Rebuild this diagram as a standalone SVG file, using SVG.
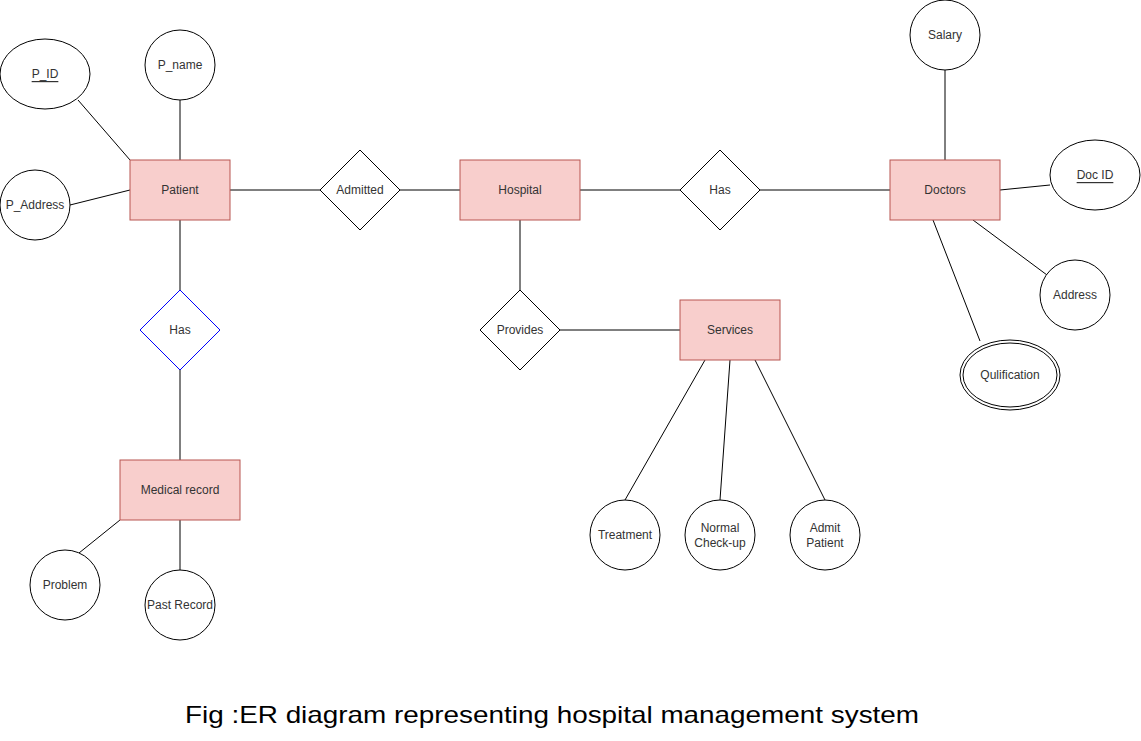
<svg xmlns="http://www.w3.org/2000/svg" width="1141" height="741" viewBox="0 0 1141 741">
<style>
.ent{fill:#f8cecc;stroke:#b85450;stroke-width:1}
.att{fill:#ffffff;stroke:#000000;stroke-width:1}
.rel{fill:#ffffff;stroke:#000000;stroke-width:1}
.relb{fill:#ffffff;stroke:#0000ff;stroke-width:1}
.lbl{font-family:"Liberation Sans",Arial,sans-serif;font-size:12px;fill:#333333;text-anchor:middle;dominant-baseline:central}
.u{text-decoration:underline}
.edge line{stroke:#000000;stroke-width:1}
.cap{font-family:"Liberation Sans",Arial,sans-serif;font-size:24px;fill:#000000}
</style>
<rect width="1141" height="741" fill="#ffffff"/>
<g id="connectors" class="edge">
<line x1="180" y1="100" x2="180" y2="160"/>
<line x1="78" y1="100" x2="130" y2="160"/>
<line x1="70" y1="205" x2="130" y2="190"/>
<line x1="230" y1="190" x2="320" y2="190"/>
<line x1="400" y1="190" x2="460" y2="190"/>
<line x1="580" y1="190" x2="680" y2="190"/>
<line x1="760" y1="190" x2="890" y2="190"/>
<line x1="945" y1="70" x2="945" y2="160"/>
<line x1="1000" y1="190" x2="1050" y2="185"/>
<line x1="973" y1="220" x2="1047" y2="275"/>
<line x1="933" y1="220" x2="980" y2="341"/>
<line x1="520" y1="220" x2="520" y2="290"/>
<line x1="560" y1="330" x2="680" y2="330"/>
<line x1="705" y1="360" x2="625" y2="500"/>
<line x1="730" y1="360" x2="720" y2="500"/>
<line x1="755" y1="360" x2="825" y2="500"/>
<line x1="180" y1="220" x2="180" y2="290"/>
<line x1="180" y1="370" x2="180" y2="460"/>
<line x1="120" y1="520" x2="79" y2="553"/>
<line x1="180" y1="520" x2="180" y2="570"/>
</g>
<g id="patient"><rect class="ent" x="130" y="160" width="100" height="60"/><text class="lbl" x="180" y="190">Patient</text></g>
<g id="p_id"><ellipse class="att" cx="45" cy="74" rx="45" ry="35"/><text class="lbl u" x="45" y="74">P_ID</text></g>
<g id="p_name"><circle class="att" cx="180" cy="65" r="35"/><text class="lbl" x="180" y="65">P_name</text></g>
<g id="p_address"><circle class="att" cx="35" cy="205" r="35"/><text class="lbl" x="35" y="205">P_Address</text></g>
<g id="admitted"><polygon class="rel" points="360,150 400,190 360,230 320,190"/><text class="lbl" x="360" y="190">Admitted</text></g>
<g id="hospital"><rect class="ent" x="460" y="160" width="120" height="60"/><text class="lbl" x="520" y="190">Hospital</text></g>
<g id="has_doctors"><polygon class="rel" points="720,150 760,190 720,230 680,190"/><text class="lbl" x="720" y="190">Has</text></g>
<g id="doctors"><rect class="ent" x="890" y="160" width="110" height="60"/><text class="lbl" x="945" y="190">Doctors</text></g>
<g id="salary"><circle class="att" cx="945" cy="35" r="35"/><text class="lbl" x="945" y="35">Salary</text></g>
<g id="doc_id"><ellipse class="att" cx="1095" cy="175" rx="45" ry="35"/><text class="lbl u" x="1095" y="175">Doc ID</text></g>
<g id="address"><circle class="att" cx="1075" cy="295" r="35"/><text class="lbl" x="1075" y="295">Address</text></g>
<g id="qulification"><ellipse class="att" cx="1010" cy="375" rx="50" ry="35"/><ellipse class="att" cx="1010" cy="375" rx="47" ry="32"/><text class="lbl" x="1010" y="375">Qulification</text></g>
<g id="provides"><polygon class="rel" points="520,290 560,330 520,370 480,330"/><text class="lbl" x="520" y="330">Provides</text></g>
<g id="services"><rect class="ent" x="680" y="300" width="100" height="60"/><text class="lbl" x="730" y="330">Services</text></g>
<g id="treatment"><circle class="att" cx="625" cy="535" r="35"/><text class="lbl" x="625" y="535">Treatment</text></g>
<g id="normal_checkup"><circle class="att" cx="720" cy="535" r="35"/><text class="lbl" x="720" y="528">Normal</text><text class="lbl" x="720" y="543">Check-up</text></g>
<g id="admit_patient"><circle class="att" cx="825" cy="535" r="35"/><text class="lbl" x="825" y="528">Admit</text><text class="lbl" x="825" y="543">Patient</text></g>
<g id="has_record"><polygon class="relb" points="180,290 220,330 180,370 140,330"/><text class="lbl" x="180" y="330">Has</text></g>
<g id="medical_record"><rect class="ent" x="120" y="460" width="120" height="60"/><text class="lbl" x="180" y="490">Medical record</text></g>
<g id="problem"><circle class="att" cx="65" cy="585" r="35"/><text class="lbl" x="65" y="585">Problem</text></g>
<g id="past_record"><circle class="att" cx="180" cy="605" r="35"/><text class="lbl" x="180" y="605">Past Record</text></g>
<text class="cap" x="185" y="723" textLength="734" lengthAdjust="spacingAndGlyphs">Fig :ER diagram representing hospital management system</text>
</svg>
